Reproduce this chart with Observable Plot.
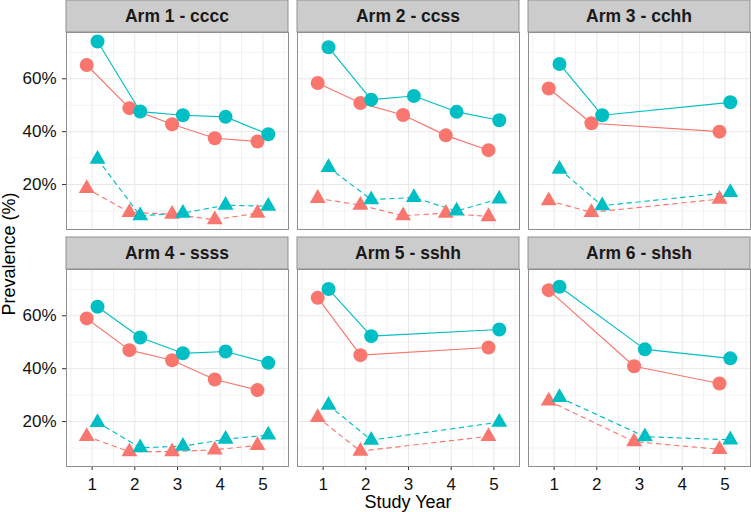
<!DOCTYPE html>
<html><head><meta charset="utf-8">
<script src="https://cdn.jsdelivr.net/npm/d3@7"></script>
<script src="https://cdn.jsdelivr.net/npm/@observablehq/plot@0.6"></script>
<style>
body{margin:0;background:#fff;}
#chart svg{display:block;}
</style></head><body><div id="chart"></div>
<script>
const arms = ["Arm 1 - cccc", "Arm 2 - ccss", "Arm 3 - cchh", "Arm 4 - ssss", "Arm 5 - sshh", "Arm 6 - shsh"];
const armCol = [0, 1, 2, 0, 1, 2];
const armRow = [0, 0, 0, 1, 1, 1];
const years = [[1,2,3,4,5],[1,2,3,4,5],[1,2,5],[1,2,3,4,5],[1,2,5],[1,3,5]];
const salmonCircle = [
  [65.2, 48.9, 42.8, 37.5, 36.3],
  [58.4, 50.8, 46.3, 38.6, 33.0],
  [56.3, 43.2, 40.0],
  [59.0, 47.0, 43.2, 35.9, 31.9],
  [66.8, 45.1, 48.0],
  [69.7, 40.9, 34.4]
];
const tealCircle = [
  [74.1, 47.6, 46.2, 45.6, 39.0],
  [71.9, 52.1, 53.5, 47.5, 44.3],
  [65.6, 46.2, 51.1],
  [63.4, 51.8, 45.8, 46.5, 42.2],
  [70.1, 52.3, 54.8],
  [71.0, 47.3, 43.9]
];
const salmonTriangle = [
  [18.5, 9.5, 8.8, 6.7, 9.2],
  [14.8, 12.2, 8.2, 9.2, 7.9],
  [13.9, 9.5, 14.5],
  [14.4, 8.6, 8.6, 9.3, 11.0],
  [21.6, 8.8, 14.4],
  [27.8, 12.4, 9.5]
];
const tealTriangle = [
  [29.6, 8.2, 9.2, 12.2, 11.8],
  [26.5, 14.3, 15.1, 10.0, 14.6],
  [25.8, 12.0, 17.0],
  [19.7, 10.1, 10.7, 13.3, 14.9],
  [26.2, 13.0, 19.8],
  [29.1, 14.3, 13.1]
];
const groups = ["Group A", "Group B"];
const groupColors = ["#F8766D", "#00BFC4"];
const yTicks = [20, 40, 60];
const yMinor = [10, 30, 50, 70];
const xTicks = [1, 2, 3, 4, 5];
const xMinor = [0.5, 1.5, 2.5, 3.5, 4.5, 5.5];

const series = [
  {group: "Group A", measure: "circle", values: salmonCircle},
  {group: "Group B", measure: "circle", values: tealCircle},
  {group: "Group A", measure: "triangle", values: salmonTriangle},
  {group: "Group B", measure: "triangle", values: tealTriangle}
];
const rows = [];
series.forEach(s => {
  arms.forEach((arm, i) => {
    years[i].forEach((yr, j) => {
      rows.push({arm, col: armCol[i], row: armRow[i], year: yr, group: s.group, measure: s.measure, value: s.values[i][j]});
    });
  });
});

const sel = (g, m) => rows.filter(d => d.group === g && d.measure === m);
const off = {"Group A": -5.4, "Group B": 5.4};
const lineMark = (g, m) => Plot.line(sel(g, m), {
  x: "year", y: "value", stroke: "group", fx: "col", fy: "row",
  dx: off[g], strokeWidth: 1.15,
  strokeDasharray: m === "triangle" ? "4.5,4.5" : null
});
const dotMark = (g, m) => Plot.dot(sel(g, m), {
  x: "year", y: "value", fill: "group", fx: "col", fy: "row",
  dx: off[g], symbol: m, r: m === "circle" ? 7 : 5.9, stroke: "none"
});

const chart = Plot.plot({
  width: 751, height: 512,
  marginTop: 32, marginBottom: 46, marginLeft: 66, marginRight: 1,
  style: {fontFamily: "'Liberation Sans', Arial, sans-serif", fontSize: "17px", color: "#111", background: "white"},
  x: {domain: [0.4, 5.6]},
  y: {domain: [3.0, 77.5]},
  fx: {axis: null, domain: [0, 1, 2], paddingInner: 0.039, paddingOuter: 0},
  fy: {axis: null, domain: [0, 1], paddingInner: 0.1688, paddingOuter: 0},
  color: {type: "ordinal", domain: groups, range: groupColors},
  marks: [
    Plot.gridY(yMinor, {stroke: "#f3f3f3", strokeOpacity: 1}),
    Plot.gridX(xMinor, {stroke: "#f3f3f3", strokeOpacity: 1}),
    Plot.gridY(yTicks, {stroke: "#e8e8e8", strokeOpacity: 1}),
    Plot.gridX(xTicks, {stroke: "#e8e8e8", strokeOpacity: 1}),
    Plot.axisY({ticks: yTicks, tickFormat: d => d + "%", tickSize: 4, tickPadding: 6, fontSize: 17, label: null, stroke: "#333"}),
    Plot.axisX({ticks: xTicks, tickFormat: d => String(d), tickSize: 4, tickPadding: 7, fontSize: 17, label: null, stroke: "#333"}),
    lineMark("Group A", "circle"), lineMark("Group B", "circle"),
    lineMark("Group A", "triangle"), lineMark("Group B", "triangle"),
    dotMark("Group A", "circle"), dotMark("Group A", "triangle"),
    dotMark("Group B", "circle"), dotMark("Group B", "triangle"),
    Plot.frame({stroke: "#8f8f8f", strokeWidth: 1})
  ]
});
document.getElementById("chart").appendChild(chart);

// strips and axis titles, positioned from Plot's facet scales
const fxS = chart.scale("fx"), fyS = chart.scale("fy");
const band = s => d3.scaleBand().domain(s.domain).range(s.range)
  .paddingInner(s.paddingInner ?? 0).paddingOuter(s.paddingOuter ?? 0).align(s.align ?? 0.5);
const fxB = band(fxS), fyB = band(fyS);
const fxA = v => (fxS.apply ? fxS.apply(v) : fxB(v));
const fyA = v => (fyS.apply ? fyS.apply(v) : fyB(v));
const bwX = fxS.bandwidth ?? fxB.bandwidth();
const stripH = 32;
const svg = d3.select(chart);
const g = svg.append("g");
arms.forEach((arm, i) => {
  const x0 = fxA(armCol[i]), y0 = fyA(armRow[i]);
  g.append("rect").attr("x", x0).attr("y", y0 - stripH).attr("width", bwX).attr("height", stripH)
    .attr("fill", "#cccccc").attr("stroke", "#8f8f8f").attr("stroke-width", 1);
  g.append("text").attr("x", x0 + bwX / 2).attr("y", y0 - stripH / 2)
    .attr("text-anchor", "middle").attr("dy", "0.36em")
    .attr("font-weight", "bold").attr("font-size", 17.5).attr("fill", "#1a1a1a").text(arm);
});
const xr = fxS.range, yr = fyS.range;
g.append("text").attr("x", (xr[0] + xr[1]) / 2).attr("y", 508)
  .attr("text-anchor", "middle").attr("font-size", 18).attr("fill", "#000").text("Study Year");
g.append("text").attr("transform", `translate(15,${(yr[0] + yr[1]) / 2 + 5}) rotate(-90)`)
  .attr("text-anchor", "middle").attr("font-size", 18).attr("fill", "#000").text("Prevalence (%)");
</script>
</body></html>
